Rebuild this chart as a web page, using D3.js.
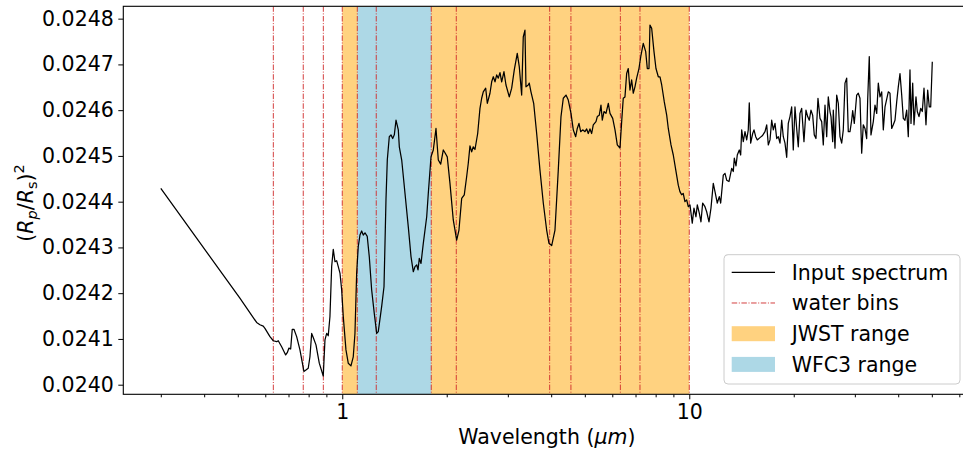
<!DOCTYPE html>
<html>
<head>
<meta charset="utf-8">
<script src="https://cdn.jsdelivr.net/npm/d3@7"></script>
<style>
  body { margin: 0; background: #fff; }
  svg { display: block; font-family: "DejaVu Sans", sans-serif; }
</style>
</head>
<body>
<div id="chart"></div>
<script>
// spectrum (wavelength in micron, transit depth)
const wavelength = [
  0.300, 0.507, 0.5666, 0.5791, 0.5920, 0.5987, 0.6189, 0.6329, 0.6471, 0.6540,
  0.6689, 0.6869, 0.6942, 0.7021, 0.7101, 0.7176, 0.7258, 0.7389, 0.7552, 0.7754,
  0.7858, 0.7979, 0.8070, 0.8163, 0.8249, 0.8400, 0.8586, 0.8815, 0.8916, 0.9018,
  0.9112, 0.9216, 0.9321, 0.9421, 0.9527, 0.9635, 0.9739, 0.9849, 0.9961, 1.0067,
  1.0249, 1.0406, 1.0594, 1.0757, 1.0879, 1.1003, 1.1120, 1.1246, 1.1374, 1.1496,
  1.1627, 1.1804, 1.1963, 1.2155, 1.2367, 1.2565, 1.2699, 1.2989, 1.3191, 1.3366,
  1.3483, 1.3662, 1.3817, 1.3974, 1.4125, 1.4285, 1.4505, 1.4602, 1.4836, 1.5164,
  1.5499, 1.5780, 1.6022, 1.6204, 1.6388, 1.6531, 1.6672, 1.6862, 1.7121, 1.7512,
  1.7698, 1.8019, 1.8295, 1.8625, 1.8914, 1.9217, 1.9552, 1.9770, 2.0072, 2.0436,
  2.0888, 2.1365, 2.1693, 2.2086, 2.2471, 2.2831, 2.3075, 2.3336, 2.3601, 2.3853,
  2.4124, 2.4561, 2.4937, 2.5220, 2.5489, 2.5903, 2.6179, 2.6649, 2.6952, 2.7245,
  2.7554, 2.7861, 2.8159, 2.8478, 2.8801, 2.9242, 2.9635, 3.0291, 3.0777, 3.1313,
  3.1937, 3.2366, 3.2885, 3.3235, 3.3612, 3.3837, 3.4356, 3.4587, 3.4979, 3.5613,
  3.6326, 3.7129, 3.7958, 3.8815, 3.9418, 4.0132, 4.1020, 4.1928, 4.2688, 4.3344,
  4.4129, 4.4804, 4.5617, 4.6317, 4.7059, 4.7560, 4.8100, 4.8646, 4.9300, 5.0051,
  5.0620, 5.1159, 5.1739, 5.2326, 5.2884, 5.3843, 5.4317, 5.5035, 5.5660, 5.6148,
  5.6785, 5.7537, 5.8432, 5.9095, 6.0166, 6.1089, 6.2025, 6.3134, 6.3851, 6.4530,
  6.5262, 6.6002, 6.6706, 6.7463, 6.8228, 6.8955, 6.9737, 7.0528, 7.1614, 7.2577,
  7.3690, 7.4887, 7.5686, 7.6544, 7.7040, 7.7914, 7.9125, 8.0171, 8.1418, 8.2342,
  8.3277, 8.4723, 8.6081, 8.6998, 8.8574, 8.9930, 9.1559, 9.2961, 9.3985, 9.5051,
  9.6063, 9.7153, 9.8288, 9.9335, 10.047, 10.200, 10.316, 10.454, 10.547, 10.687,
  10.807, 10.929, 11.097, 11.223, 11.397, 11.548, 11.727, 11.860, 12.042, 12.204,
  12.317, 12.531, 12.673, 12.817, 13.014, 13.250, 13.391, 13.481, 13.634, 13.751,
  13.936, 14.065, 14.159, 14.310, 14.472, 14.636, 14.791, 14.890, 15.028, 15.230,
  15.363, 15.538, 15.704, 15.985, 16.233, 16.527, 16.715, 16.893, 17.085, 17.279,
  17.463, 17.661, 17.861, 18.051, 18.256, 18.463, 18.660, 18.871, 19.085, 19.288,
  19.507, 19.728, 19.939, 20.165, 20.393, 20.610, 20.844, 21.080, 21.404, 21.691,
  21.937, 22.171, 22.422, 22.676, 22.917, 23.177, 23.489, 23.805, 24.075, 24.332,
  24.608, 24.887, 25.152, 25.437, 25.608, 25.898, 26.001, 26.296, 26.594, 26.878,
  27.183, 27.491, 27.784, 28.099, 28.418, 28.720, 29.046, 29.376, 29.573, 29.888,
  30.367, 30.690, 31.038, 31.391, 31.725, 32.084, 32.448, 32.665, 33.013, 33.388,
  33.908, 34.292, 34.681, 35.050, 35.448, 35.850, 36.232, 36.644, 37.454, 37.879,
  38.309, 38.717, 39.156, 39.601, 40.023, 40.477, 40.937, 41.373, 41.842, 42.317,
  42.767, 43.252, 43.541, 44.035, 44.421, 45.008, 45.404, 45.919, 46.440, 46.935,
  47.467, 48.094, 48.640, 49.158, 49.624, 50.152
];

const depth = [
  0.024429, 0.024189, 0.024136, 0.024131, 0.024128, 0.024123, 0.024105, 0.024096, 0.024094, 0.024096,
  0.024083, 0.024065, 0.024070, 0.024080, 0.024078, 0.024121, 0.024121, 0.024105, 0.024076, 0.024029,
  0.024032, 0.024036, 0.024061, 0.024112, 0.024103, 0.024087, 0.024047, 0.024019, 0.024098, 0.024112,
  0.024107, 0.024149, 0.024258, 0.024296, 0.024269, 0.024271, 0.024258, 0.024244, 0.024207, 0.024149,
  0.024076, 0.024047, 0.024041, 0.024061, 0.024112, 0.024244, 0.024302, 0.024327, 0.024336, 0.024327,
  0.024332, 0.024324, 0.024280, 0.024207, 0.024156, 0.024112, 0.024116, 0.024171, 0.024214, 0.024404,
  0.024491, 0.024542, 0.024546, 0.024538, 0.024546, 0.024578, 0.024557, 0.024520, 0.024491, 0.024418,
  0.024345, 0.024280, 0.024247, 0.024258, 0.024262, 0.024251, 0.024276, 0.024265, 0.024309, 0.024367,
  0.024418, 0.024498, 0.024513, 0.024560, 0.024491, 0.024482, 0.024513, 0.024507, 0.024498, 0.024440,
  0.024360, 0.024316, 0.024338, 0.024407, 0.024415, 0.024455, 0.024484, 0.024522, 0.024509, 0.024520,
  0.024514, 0.024549, 0.024604, 0.024626, 0.024640, 0.024648, 0.024615, 0.024637, 0.024662, 0.024673,
  0.024662, 0.024677, 0.024670, 0.024682, 0.024662, 0.024684, 0.024655, 0.024629, 0.024648, 0.024688,
  0.024724, 0.024695, 0.024633, 0.024760, 0.024775, 0.024651, 0.024655, 0.024659, 0.024640, 0.024615,
  0.024549, 0.024469, 0.024397, 0.024338, 0.024309, 0.024304, 0.024338, 0.024469, 0.024586, 0.024626,
  0.024633, 0.024622, 0.024593, 0.024557, 0.024542, 0.024560, 0.024571, 0.024553, 0.024557, 0.024553,
  0.024559, 0.024549, 0.024559, 0.024549, 0.024568, 0.024575, 0.024586, 0.024589, 0.024611, 0.024578,
  0.024597, 0.024593, 0.024615, 0.024593, 0.024582, 0.024557, 0.024524, 0.024517, 0.024575, 0.024626,
  0.024629, 0.024680, 0.024691, 0.024644, 0.024666, 0.024637, 0.024651, 0.024670, 0.024691, 0.024720,
  0.024746, 0.024728, 0.024691, 0.024691, 0.024786, 0.024779, 0.024728, 0.024691, 0.024673, 0.024673,
  0.024655, 0.024618, 0.024589, 0.024560, 0.024524, 0.024502, 0.024466, 0.024436, 0.024422, 0.024415,
  0.024418, 0.024400, 0.024404, 0.024389, 0.024393, 0.024353, 0.024386, 0.024367, 0.024393, 0.024375,
  0.024356, 0.024397, 0.024389, 0.024378, 0.024356, 0.024386, 0.024440, 0.024422, 0.024397, 0.024411,
  0.024397, 0.024458, 0.024462, 0.024447, 0.024444, 0.024473, 0.024466, 0.024495, 0.024478, 0.024502,
  0.024513, 0.024502, 0.024557, 0.024531, 0.024553, 0.024535, 0.024557, 0.024616, 0.024528, 0.024549,
  0.024557, 0.024542, 0.024535, 0.024540, 0.024544, 0.024553, 0.024568, 0.024524, 0.024535, 0.024578,
  0.024557, 0.024571, 0.024538, 0.024542, 0.024528, 0.024578, 0.024542, 0.024528, 0.024497, 0.024571,
  0.024586, 0.024607, 0.024513, 0.024607, 0.024560, 0.024520, 0.024593, 0.024604, 0.024531, 0.024600,
  0.024586, 0.024578, 0.024600, 0.024589, 0.024546, 0.024538, 0.024626, 0.024582, 0.024575, 0.024524,
  0.024611, 0.024542, 0.024629, 0.024597, 0.024586, 0.024531, 0.024600, 0.024517, 0.024633, 0.024615,
  0.024542, 0.024528, 0.024557, 0.024659, 0.024670, 0.024553, 0.024553, 0.024578, 0.024599, 0.024571,
  0.024633, 0.024637, 0.024626, 0.024506, 0.024568, 0.024560, 0.024538, 0.024622, 0.024717, 0.024546,
  0.024575, 0.024611, 0.024593, 0.024659, 0.024629, 0.024640, 0.024557, 0.024607, 0.024640, 0.024637,
  0.024560, 0.024568, 0.024578, 0.024618, 0.024651, 0.024680, 0.024633, 0.024582, 0.024578, 0.024600,
  0.024542, 0.024688, 0.024571, 0.024659, 0.024568, 0.024629, 0.024597, 0.024586, 0.024604, 0.024597,
  0.024648, 0.024568, 0.024644, 0.024607, 0.024607, 0.024706
];

const waterBins = [0.633, 0.772, 0.882, 1.0, 1.105, 1.253, 1.805, 2.131, 3.96, 4.56, 6.33, 7.21, 10.0];
const jwstRange = [1.0, 10.0];
const wfc3Range = [1.105, 1.805];

const xLimits = [0.2339, 64.58];
const yLimits = [0.023979, 0.024827];
const xMajorTicks = [1, 10];
const yTicks = [0.0240, 0.0241, 0.0242, 0.0243, 0.0244, 0.0245, 0.0246, 0.0247, 0.0248];

const legendLabels = ['Input spectrum', 'water bins', 'JWST range', 'WFC3 range'];

class SpectrumChart {
  constructor(_config) {
    this.config = {
      parentElement: _config.parentElement,
      containerWidth: _config.containerWidth || 963,
      containerHeight: _config.containerHeight || 451,
      margin: _config.margin || {top: 6.3, right: -7.4, bottom: 56.7, left: 123.3},
      fontSize: 20.5,
      binColor: '#cf2a2a',
      binDash: '5.5,1.6,1,1.6'
    };
    this.initVis();
  }

  initVis() {
    let vis = this;
    const m = vis.config.margin;
    vis.width = vis.config.containerWidth - m.left - m.right;
    vis.height = vis.config.containerHeight - m.top - m.bottom;

    vis.svg = d3.select(vis.config.parentElement).append('svg')
        .attr('width', vis.config.containerWidth)
        .attr('height', vis.config.containerHeight);

    vis.svg.append('defs').append('clipPath')
        .attr('id', 'plot-clip')
      .append('rect')
        .attr('width', vis.width)
        .attr('height', vis.height);

    vis.chart = vis.svg.append('g')
        .attr('transform', `translate(${m.left},${m.top})`);

    vis.xScale = d3.scaleLog().domain(xLimits).range([0, vis.width]);
    vis.yScale = d3.scaleLinear().domain(yLimits).range([vis.height, 0]);

    vis.data = d3.zip(wavelength, depth);
    vis.renderVis();
  }

  renderVis() {
    let vis = this;
    const fs = vis.config.fontSize;
    const plot = vis.chart.append('g').attr('clip-path', 'url(#plot-clip)');

    // shaded instrument ranges
    plot.append('rect')
        .attr('x', vis.xScale(jwstRange[0]))
        .attr('width', vis.xScale(jwstRange[1]) - vis.xScale(jwstRange[0]))
        .attr('y', 0)
        .attr('height', vis.height)
        .attr('fill', '#ffd280');
    plot.append('rect')
        .attr('x', vis.xScale(wfc3Range[0]))
        .attr('width', vis.xScale(wfc3Range[1]) - vis.xScale(wfc3Range[0]))
        .attr('y', 0)
        .attr('height', vis.height)
        .attr('fill', '#add8e6');

    // water bin edges
    plot.selectAll('.bin')
        .data(waterBins)
      .join('line')
        .attr('class', 'bin')
        .attr('x1', d => vis.xScale(d))
        .attr('x2', d => vis.xScale(d))
        .attr('y1', 0)
        .attr('y2', vis.height)
        .attr('stroke', vis.config.binColor)
        .attr('stroke-width', 0.9)
        .attr('stroke-dasharray', vis.config.binDash);

    const line = d3.line()
        .x(d => vis.xScale(d[0]))
        .y(d => vis.yScale(d[1]));

    plot.append('path')
        .datum(vis.data)
        .attr('d', line)
        .attr('fill', 'none')
        .attr('stroke', '#000')
        .attr('stroke-width', 1.25)
        .attr('stroke-linejoin', 'round');

    // axes
    const minorTicks = vis.xScale.ticks().filter(t => !xMajorTicks.includes(t));

    vis.chart.append('g')
        .attr('transform', `translate(0,${vis.height})`)
        .call(d3.axisBottom(vis.xScale).tickValues(minorTicks).tickSize(3).tickFormat(''))
        .call(g => g.select('.domain').remove());

    const xAxisG = vis.chart.append('g')
        .attr('transform', `translate(0,${vis.height})`)
        .call(d3.axisBottom(vis.xScale).tickValues(xMajorTicks).tickSize(5).tickPadding(5)
            .tickFormat(d3.format('d')))
        .call(g => g.select('.domain').remove());

    const yAxisG = vis.chart.append('g')
        .call(d3.axisLeft(vis.yScale).tickValues(yTicks).tickSize(5).tickPadding(4.5)
            .tickFormat(d3.format('.4f')))
        .call(g => g.select('.domain').remove());

    [xAxisG, yAxisG].forEach(g => {
      g.selectAll('text').attr('font-family', '"DejaVu Sans", sans-serif')
          .attr('font-size', fs).attr('fill', '#000');
      g.selectAll('line').attr('stroke', '#000').attr('stroke-width', 1);
    });
    vis.chart.selectAll('.tick line').attr('stroke', '#000');

    // spines
    vis.chart.append('rect')
        .attr('width', vis.width)
        .attr('height', vis.height)
        .attr('fill', 'none')
        .attr('stroke', '#000')
        .attr('stroke-width', 1.1);

    // axis titles
    const xt = vis.svg.append('text')
        .attr('x', vis.config.margin.left + vis.width / 2)
        .attr('y', 444)
        .attr('text-anchor', 'middle')
        .attr('font-size', fs);
    xt.append('tspan').text('Wavelength (');
    xt.append('tspan').attr('font-style', 'italic').text('\u03bcm');
    xt.append('tspan').text(')');

    const yt = vis.svg.append('text')
        .attr('transform', `translate(33,203) rotate(-90)`)
        .attr('text-anchor', 'middle')
        .attr('font-size', fs);
    yt.append('tspan').text('(');
    yt.append('tspan').attr('font-style', 'italic').text('R');
    yt.append('tspan').attr('font-style', 'italic').attr('font-size', 14.5).attr('dy', 4).text('p');
    yt.append('tspan').attr('dy', -4).text('/');
    yt.append('tspan').attr('font-style', 'italic').text('R');
    yt.append('tspan').attr('font-size', 14.5).attr('dy', 4).text('s');
    yt.append('tspan').attr('dy', -4).text(')');
    yt.append('tspan').attr('font-size', 14.5).attr('dy', -9).text('2');

    vis.renderLegend();
  }

  renderLegend() {
    let vis = this;
    const fs = vis.config.fontSize;
    const lg = vis.svg.append('g').attr('transform', 'translate(724,254.7)');

    lg.append('rect')
        .attr('width', 236)
        .attr('height', 129.3)
        .attr('rx', 4)
        .attr('fill', '#fff')
        .attr('fill-opacity', 0.8)
        .attr('stroke', '#cccccc')
        .attr('stroke-width', 1);

    const rowY = i => 17.6 + i * 30.7;

    lg.append('line')
        .attr('x1', 7.7).attr('x2', 51)
        .attr('y1', rowY(0)).attr('y2', rowY(0))
        .attr('stroke', '#000').attr('stroke-width', 1.25);
    lg.append('line')
        .attr('x1', 7.7).attr('x2', 51)
        .attr('y1', rowY(1)).attr('y2', rowY(1))
        .attr('stroke', vis.config.binColor).attr('stroke-width', 0.9)
        .attr('stroke-dasharray', vis.config.binDash);
    lg.append('rect')
        .attr('x', 7.7).attr('y', rowY(2) - 7.5)
        .attr('width', 43.3).attr('height', 15)
        .attr('fill', '#ffd280');
    lg.append('rect')
        .attr('x', 7.7).attr('y', rowY(3) - 7.5)
        .attr('width', 43.3).attr('height', 15)
        .attr('fill', '#add8e6');

    lg.selectAll('.legend-label')
        .data(legendLabels)
      .join('text')
        .attr('class', 'legend-label')
        .attr('x', 67.7)
        .attr('y', (d, i) => rowY(i))
        .attr('dy', '0.36em')
        .attr('font-size', fs)
        .text(d => d);
  }
}

new SpectrumChart({parentElement: '#chart'});
</script>
</body>
</html>
